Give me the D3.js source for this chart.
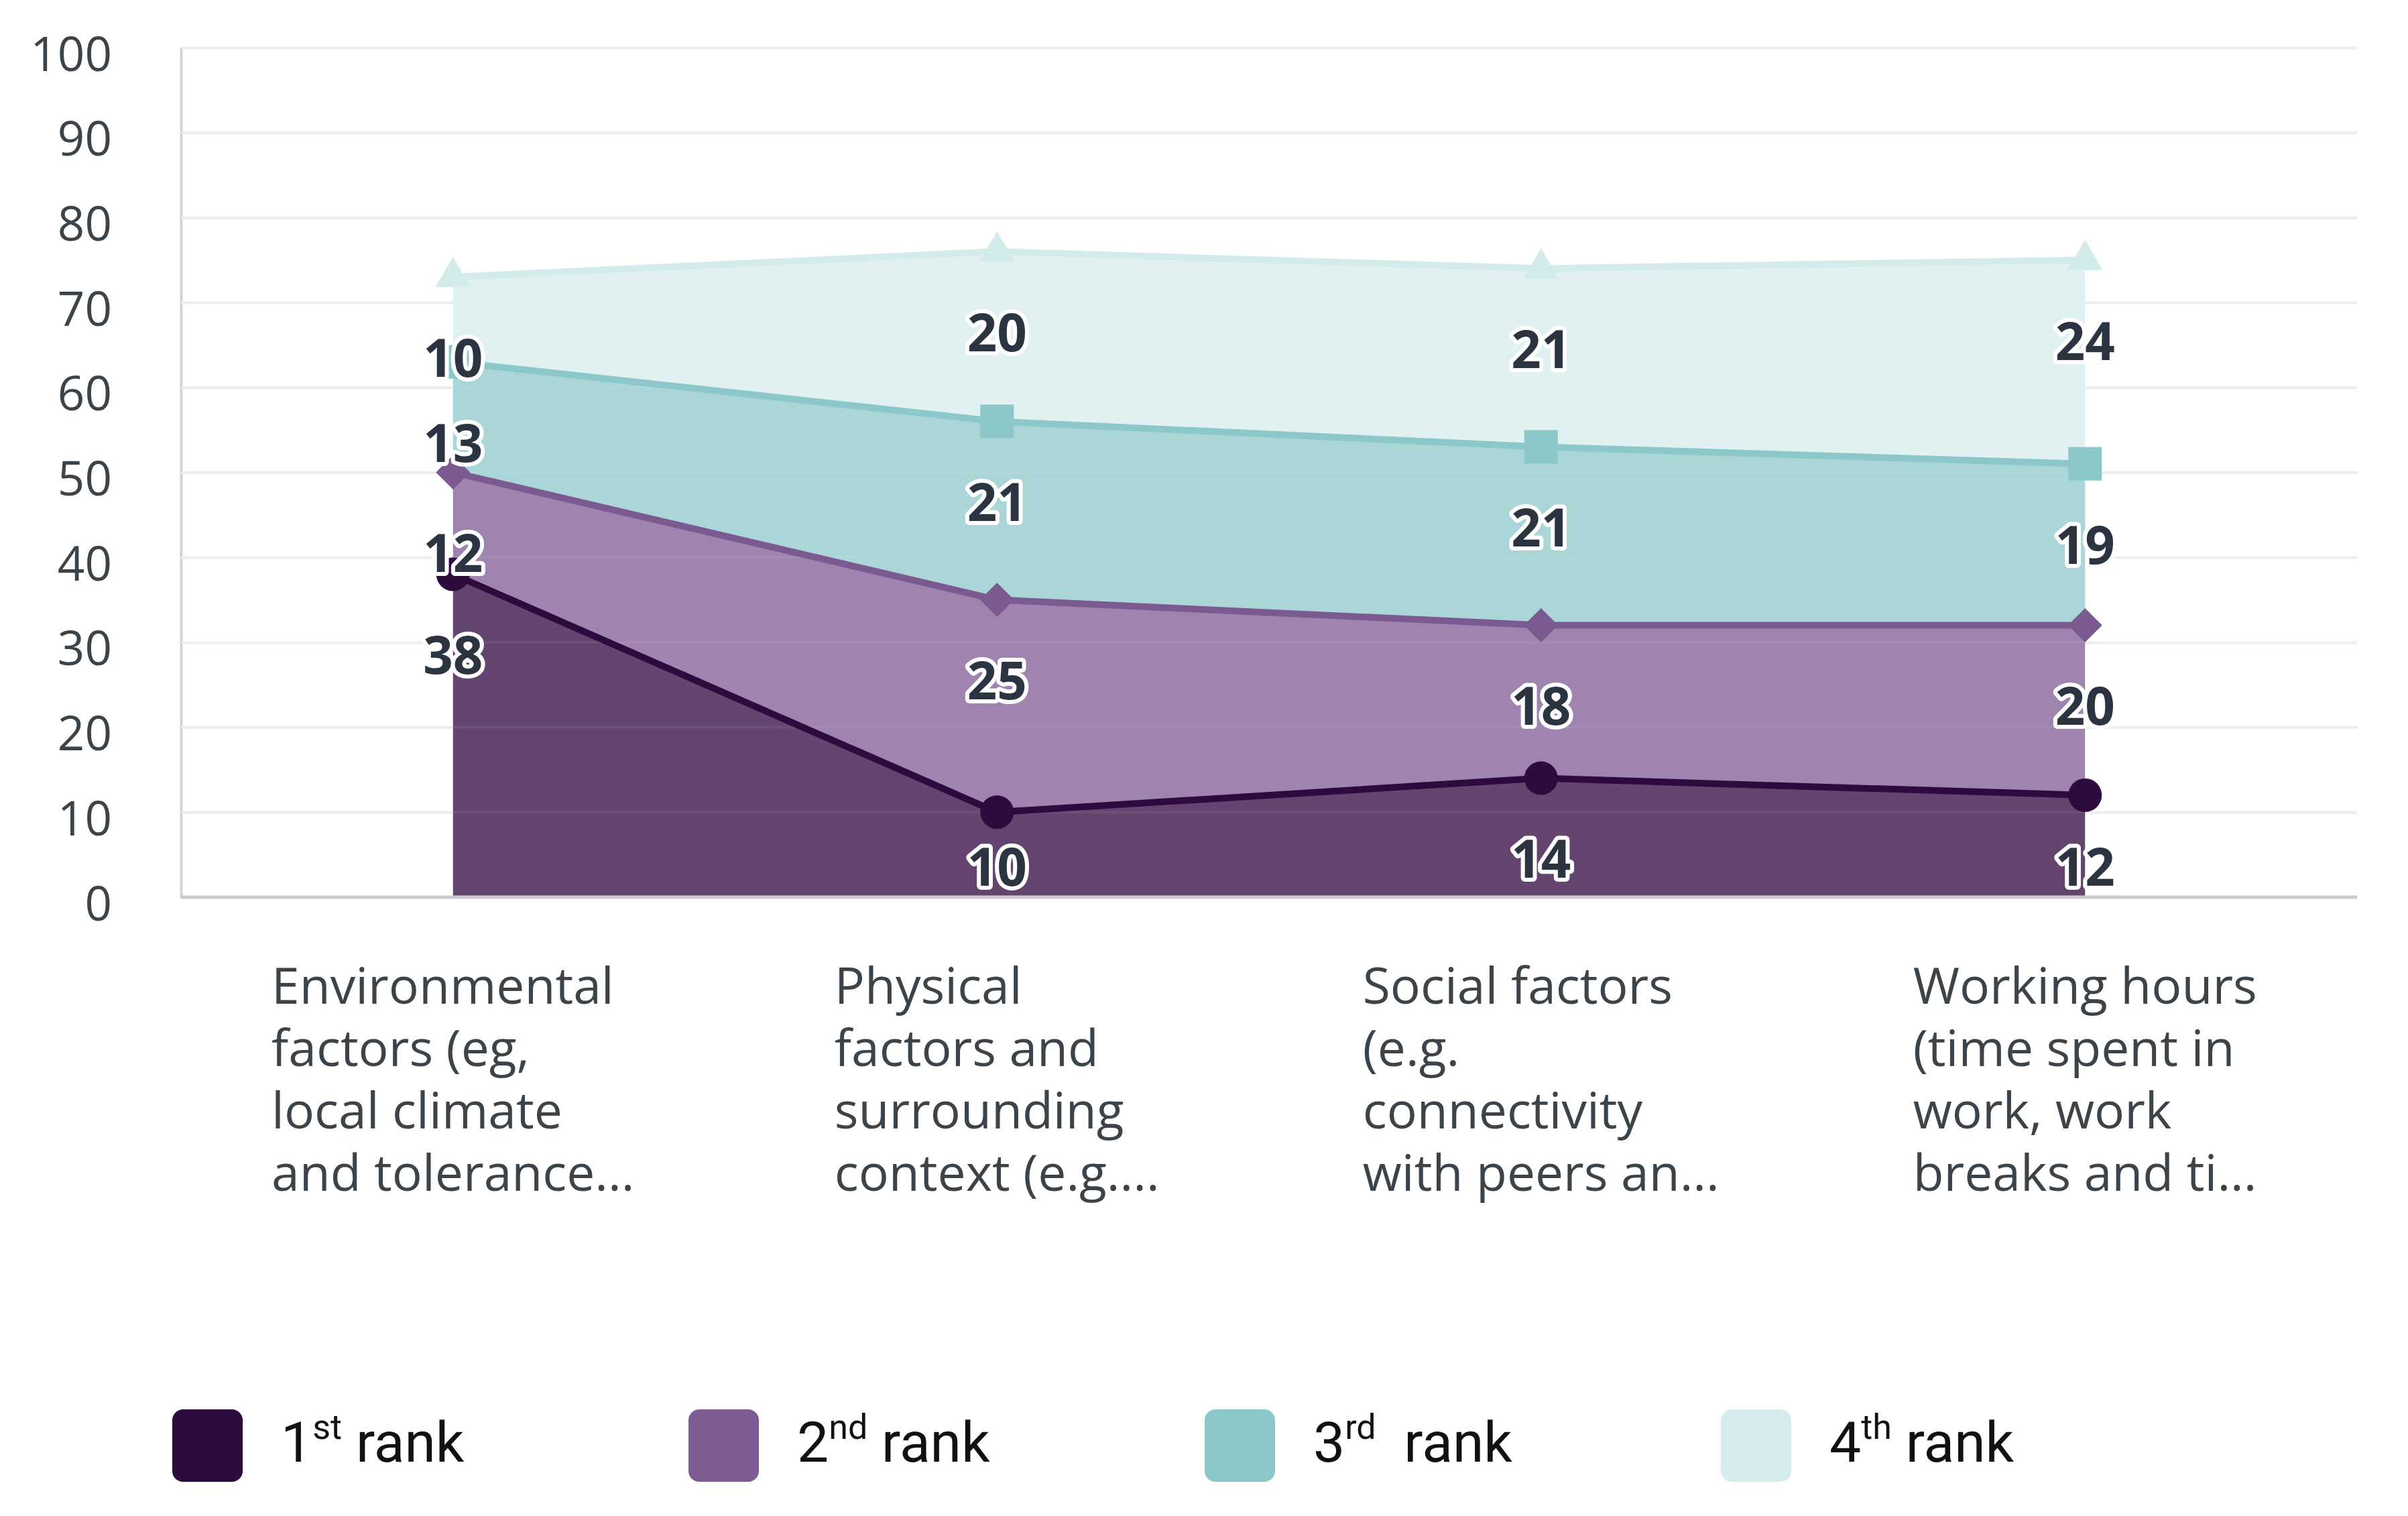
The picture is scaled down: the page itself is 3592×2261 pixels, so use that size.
<!DOCTYPE html>
<html><head><meta charset="utf-8">
<script src="https://cdn.jsdelivr.net/npm/d3@7"></script>
<style>html,body{margin:0;padding:0;background:#fff;} svg{display:block;}</style>
</head><body>
<svg id="chart" width="3592" height="2261"></svg>
<script>
// ---- data ----
const categories = ["Environmental", "Physical", "Social", "Working"];
const categoryLines = [
  ["Environmental", "factors (eg,", "local climate", "and tolerance..."],
  ["Physical", "factors and", "surrounding", "context (e.g...."],
  ["Social factors", "(e.g.", "connectivity", "with peers an..."],
  ["Working hours", "(time spent in", "work, work", "breaks and ti..."]
];
const rank1 = [38, 10, 14, 12];
const rank2 = [12, 25, 18, 20];
const rank3 = [13, 21, 21, 19];
const rank4 = [10, 20, 21, 24];
const seriesKeys = ["rank1", "rank2", "rank3", "rank4"];
const legendNumbers = ["1", "2", "3", "4"];
const legendSuffixes = ["st", "nd", "rd", "th"];
const legendWords = [" rank", " rank", "  rank", " rank"];
const yTicks = [0, 10, 20, 30, 40, 50, 60, 70, 80, 90, 100];

(function () {
// ---- styles ----
const lineColors = ["#2e0b3e", "#7b5a91", "#8cc7c9", "#d4ebeb"];
const areaColors = ["#634570", "#9e84ae", "#aad6d8", "#e1f1f1"];
const legendColors = ["#2e0b3e", "#7d5b93", "#8cc8ca", "#d7eded"];
const textColor = "#3c4449";

const svg = d3.select("#chart");
const pLeft = 270, pRight = 3516, pTop = 71, pBottom = 1338;

const x = d3.scalePoint().domain(categories).range([pLeft, pRight]).padding(0.5);
const y = d3.scaleLinear().domain([0, 100]).range([pBottom, pTop]);

const table = categories.map((c, i) => ({cat: c, rank1: rank1[i], rank2: rank2[i], rank3: rank3[i], rank4: rank4[i]}));
const stacked = d3.stack().keys(seriesKeys)(table);

// grid + y axis
const yAxis = svg.append("g").attr("transform", `translate(${pLeft},0)`)
  .call(d3.axisLeft(y).tickValues(yTicks).tickSize(-(pRight - pLeft)).tickSizeOuter(0).tickPadding(103));
yAxis.select(".domain").attr("stroke", "#d2d2d2").attr("stroke-width", 4);
yAxis.selectAll(".tick line").attr("stroke", "#ececec").attr("stroke-width", 4);
yAxis.selectAll(".tick text")
  .attr("fill", textColor).attr("font-family", "'Open Sans', sans-serif")
  .attr("font-size", 71).attr("dy", "0.48em");

// areas
const area = d3.area().x(d => x(d.data.cat)).y0(d => y(d[0])).y1(d => y(d[1]));
svg.append("g").selectAll("path").data(stacked).join("path")
  .attr("d", area).attr("fill", (d, i) => areaColors[i]);

// faint grid lines visible through the areas
svg.append("g").selectAll("line").data(yTicks.filter(v => v > 0)).join("line")
  .attr("x1", pLeft).attr("x2", pRight).attr("y1", d => y(d)).attr("y2", d => y(d))
  .attr("stroke", "#ffffff").attr("stroke-opacity", 0.06).attr("stroke-width", 4);

// baseline
svg.append("line").attr("x1", pLeft).attr("x2", pRight).attr("y1", y(0)).attr("y2", y(0))
  .attr("stroke", "#cbcbcb").attr("stroke-width", 5);

// lines
const line = d3.line().x(d => x(d.data.cat)).y(d => y(d[1]));
svg.append("g").selectAll("path").data(stacked).join("path")
  .attr("d", line).attr("fill", "none")
  .attr("stroke", (d, i) => lineColors[i]).attr("stroke-width", 10).attr("stroke-linejoin", "round");

// markers
const symbols = [
  d3.symbol().type(d3.symbolCircle).size(1963),
  d3.symbol().type(d3.symbolSquare).size(1300),
  d3.symbol().type(d3.symbolSquare).size(2500),
  d3.symbol().type(d3.symbolTriangle).size(1200)
];
const rotations = [0, 45, 0, 0];
stacked.forEach((s, i) => {
  svg.append("g").selectAll("path").data(s).join("path")
    .attr("d", symbols[i]())
    .attr("transform", d => `translate(${x(d.data.cat)},${y(d[1])}) rotate(${rotations[i]})`)
    .attr("fill", lineColors[i]);
});

// value labels
const labelOffset = 121, labelMinGap = 45, labelSize = 78;
stacked.forEach((s, i) => {
  svg.append("g").selectAll("text").data(s).join("text")
    .attr("x", d => x(d.data.cat))
    .attr("y", d => Math.min(y(d[1]) + labelOffset, y(0) - labelMinGap) + labelSize * 0.357)
    .attr("text-anchor", "middle")
    .attr("font-family", "'Open Sans', sans-serif").attr("font-weight", 700)
    .attr("font-size", labelSize).attr("fill", "#2b3440")
    .attr("stroke", "#fff").attr("stroke-width", 12).attr("stroke-linejoin", "round")
    .attr("paint-order", "stroke")
    .text(d => d[1] - d[0]);
});

// category labels
const catG = svg.append("g");
categories.forEach((c, i) => {
  const t = catG.append("text").attr("font-family", "'Open Sans', sans-serif")
    .attr("font-size", 75).attr("fill", textColor);
  categoryLines[i].forEach((ln, j) => {
    t.append("tspan").attr("y", 1497 + j * 93).text(ln);
  });
  let maxW = 0;
  t.selectAll("tspan").each(function() { maxW = Math.max(maxW, this.getComputedTextLength()); });
  t.selectAll("tspan").attr("x", x(c) - maxW / 2);
});

// legend
const legG = svg.append("g");
seriesKeys.forEach((k, i) => {
  const lx = 257 + i * 770;
  legG.append("rect").attr("x", lx).attr("y", 2102).attr("width", 105).attr("height", 108)
    .attr("rx", 16).attr("fill", legendColors[i]);
  const t = legG.append("text").attr("x", lx + 162).attr("y", 2180)
    .attr("font-family", "Roboto, sans-serif").attr("font-size", 84).attr("fill", "#111")
    .style("white-space", "pre");
  t.append("tspan").text(legendNumbers[i]);
  t.append("tspan").attr("font-size", 52).attr("dy", -34).text(legendSuffixes[i]);
  t.append("tspan").attr("dy", 34).text(legendWords[i]);
});
})();
</script>
</body></html>
